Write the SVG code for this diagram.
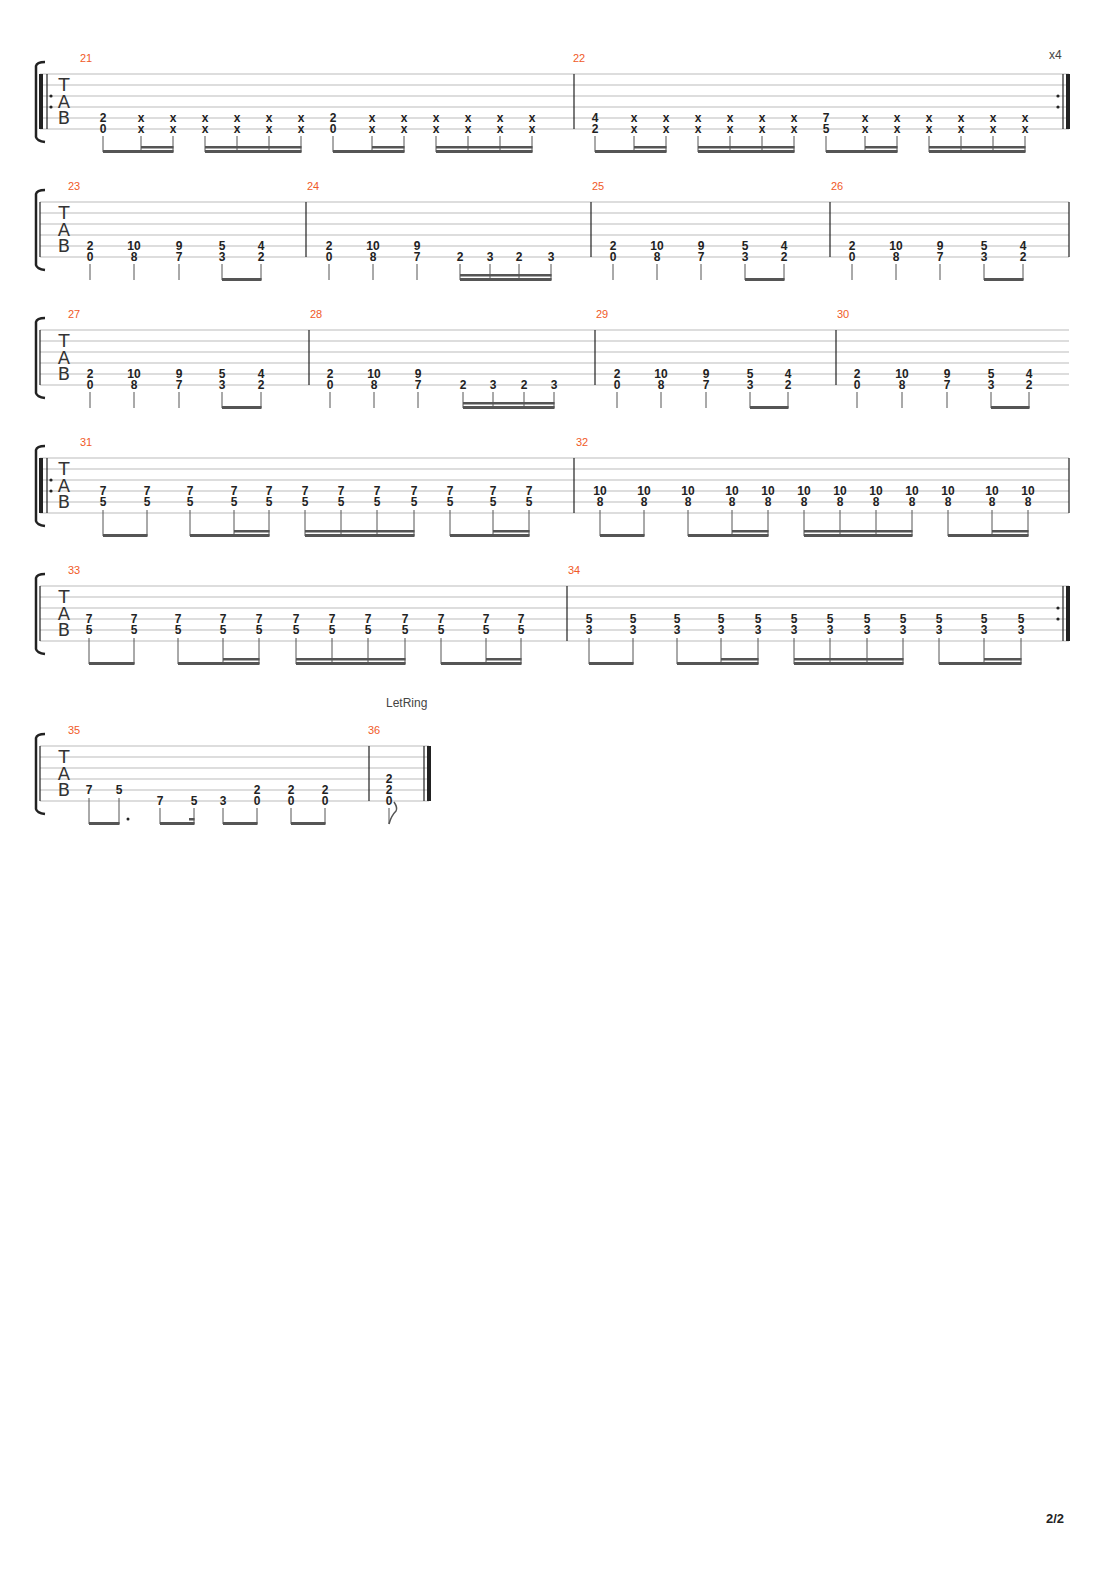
<svg xmlns="http://www.w3.org/2000/svg" width="1110" height="1570" viewBox="0 0 1110 1570">
<style>
.sl{stroke:#bbb;stroke-width:1}
.bl{stroke:#222;stroke-width:1.2}
.tb{stroke:#222;stroke-width:4}
.st{stroke:#555;stroke-width:1}
.bm{fill:#555}
.n{font-family:"Liberation Sans",Arial,sans-serif;font-size:12px;font-weight:bold;fill:#222;text-anchor:middle}
.mn{font-family:"Liberation Sans",Arial,sans-serif;font-size:11px;fill:#f05a28}
.tab{font-family:"DejaVu Sans",sans-serif;font-size:18px;fill:#333;text-anchor:middle}
.br{fill:none;stroke:#222;stroke-width:2.5}
.lb{font-family:"Liberation Sans",Arial,sans-serif;font-size:12px;fill:#444}
</style>
<rect width="1110" height="1570" fill="#fff"/>
<defs>
<g id="lines5"><path class="sl" d="M40 0H1069M40 11H1069M40 22H1069M40 33H1069M40 44H1069M40 55H1069"/></g>
<g id="head"><path class="br" d="M45 -12Q37 -12 36 -8V63Q37 67 45 68"/>
<text class="tab" x="64" y="17">T</text><text class="tab" x="64" y="34">A</text><text class="tab" x="64" y="50">B</text></g>
</defs>

<g id="sys1" transform="translate(0,74)">
<use href="#lines5"/><use href="#head"/>
<line class="tb" x1="41" y1="0" x2="41" y2="55"/><line class="bl" x1="47" y1="0" x2="47" y2="55"/>
<circle cx="51" cy="22" r="1.6" fill="#222"/><circle cx="51" cy="33" r="1.6" fill="#222"/>
<line class="bl" x1="574" y1="0" x2="574" y2="55"/>
<line class="bl" x1="1063" y1="0" x2="1063" y2="55"/><line class="tb" x1="1068" y1="0" x2="1068" y2="55"/>
<circle cx="1058" cy="22" r="1.6" fill="#222"/><circle cx="1058" cy="33" r="1.6" fill="#222"/>
<text class="mn" x="80" y="-12">21</text><text class="mn" x="573" y="-12">22</text>
<text class="lb" x="1049" y="-15">x4</text>
<g class="n">
<text x="103" y="48">2</text><text x="103" y="59">0</text>
<text x="141" y="48">x</text><text x="141" y="59">x</text><text x="173" y="48">x</text><text x="173" y="59">x</text>
<text x="205" y="48">x</text><text x="205" y="59">x</text><text x="237" y="48">x</text><text x="237" y="59">x</text>
<text x="269" y="48">x</text><text x="269" y="59">x</text><text x="301" y="48">x</text><text x="301" y="59">x</text>
<text x="333" y="48">2</text><text x="333" y="59">0</text>
<text x="372" y="48">x</text><text x="372" y="59">x</text><text x="404" y="48">x</text><text x="404" y="59">x</text>
<text x="436" y="48">x</text><text x="436" y="59">x</text><text x="468" y="48">x</text><text x="468" y="59">x</text>
<text x="500" y="48">x</text><text x="500" y="59">x</text><text x="532" y="48">x</text><text x="532" y="59">x</text>
<text x="595" y="48">4</text><text x="595" y="59">2</text>
<text x="634" y="48">x</text><text x="634" y="59">x</text><text x="666" y="48">x</text><text x="666" y="59">x</text>
<text x="698" y="48">x</text><text x="698" y="59">x</text><text x="730" y="48">x</text><text x="730" y="59">x</text>
<text x="762" y="48">x</text><text x="762" y="59">x</text><text x="794" y="48">x</text><text x="794" y="59">x</text>
<text x="826" y="48">7</text><text x="826" y="59">5</text>
<text x="865" y="48">x</text><text x="865" y="59">x</text><text x="897" y="48">x</text><text x="897" y="59">x</text>
<text x="929" y="48">x</text><text x="929" y="59">x</text><text x="961" y="48">x</text><text x="961" y="59">x</text>
<text x="993" y="48">x</text><text x="993" y="59">x</text><text x="1025" y="48">x</text><text x="1025" y="59">x</text>
</g>
<path class="st" d="M103 62V78M141 62V78M173 62V78M205 62V78M237 62V78M269 62V78M301 62V78M333 62V78M372 62V78M404 62V78M436 62V78M468 62V78M500 62V78M532 62V78M595 62V78M634 62V78M666 62V78M698 62V78M730 62V78M762 62V78M794 62V78M826 62V78M865 62V78M897 62V78M929 62V78M961 62V78M993 62V78M1025 62V78"/>
<g class="bm">
<rect x="103" y="76" width="70.5" height="3"/><rect x="141" y="72" width="32.5" height="2.5"/>
<rect x="205" y="76" width="96.5" height="3"/><rect x="205" y="72" width="96.5" height="2.5"/>
<rect x="333" y="76" width="71.5" height="3"/><rect x="372" y="72" width="32.5" height="2.5"/>
<rect x="436" y="76" width="96.5" height="3"/><rect x="436" y="72" width="96.5" height="2.5"/>
<rect x="595" y="76" width="71.5" height="3"/><rect x="634" y="72" width="32.5" height="2.5"/>
<rect x="698" y="76" width="96.5" height="3"/><rect x="698" y="72" width="96.5" height="2.5"/>
<rect x="826" y="76" width="71.5" height="3"/><rect x="865" y="72" width="32.5" height="2.5"/>
<rect x="929" y="76" width="96.5" height="3"/><rect x="929" y="72" width="96.5" height="2.5"/>
</g>
</g>

<g id="sys2" transform="translate(0,202)">
<use href="#lines5"/><use href="#head"/>
<path class="bl" d="M40 0V55M306 0V55M591 0V55M830 0V55M1069 0V55"/>
<text class="mn" x="68" y="-12">23</text><text class="mn" x="307" y="-12">24</text><text class="mn" x="592" y="-12">25</text><text class="mn" x="831" y="-12">26</text>
<g class="n">
<text x="90" y="48">2</text><text x="90" y="59">0</text><text x="134" y="48">10</text><text x="134" y="59">8</text><text x="179" y="48">9</text><text x="179" y="59">7</text><text x="222" y="48">5</text><text x="222" y="59">3</text><text x="261" y="48">4</text><text x="261" y="59">2</text>
<text x="329" y="48">2</text><text x="329" y="59">0</text><text x="373" y="48">10</text><text x="373" y="59">8</text><text x="417" y="48">9</text><text x="417" y="59">7</text>
<text x="460" y="59">2</text><text x="490" y="59">3</text><text x="519" y="59">2</text><text x="551" y="59">3</text>
<text x="613" y="48">2</text><text x="613" y="59">0</text><text x="657" y="48">10</text><text x="657" y="59">8</text><text x="701" y="48">9</text><text x="701" y="59">7</text><text x="745" y="48">5</text><text x="745" y="59">3</text><text x="784" y="48">4</text><text x="784" y="59">2</text>
<text x="852" y="48">2</text><text x="852" y="59">0</text><text x="896" y="48">10</text><text x="896" y="59">8</text><text x="940" y="48">9</text><text x="940" y="59">7</text><text x="984" y="48">5</text><text x="984" y="59">3</text><text x="1023" y="48">4</text><text x="1023" y="59">2</text>
</g>
<path class="st" d="M90 62V78M134 62V78M179 62V78M222 62V78M261 62V78M329 62V78M373 62V78M417 62V78M460 62V78M490 62V78M519 62V78M551 62V78M613 62V78M657 62V78M701 62V78M745 62V78M784 62V78M852 62V78M896 62V78M940 62V78M984 62V78M1023 62V78"/>
<g class="bm">
<rect x="222" y="76" width="39.5" height="3"/><rect x="460" y="76" width="91.5" height="3"/><rect x="460" y="72" width="91.5" height="2.5"/>
<rect x="745" y="76" width="39.5" height="3"/><rect x="984" y="76" width="39.5" height="3"/>
</g>
</g>

<g id="sys3" transform="translate(0,330)">
<use href="#lines5"/><use href="#head"/>
<path class="bl" d="M40 0V55M309 0V55M595 0V55M836 0V55"/>
<text class="mn" x="68" y="-12">27</text><text class="mn" x="310" y="-12">28</text><text class="mn" x="596" y="-12">29</text><text class="mn" x="837" y="-12">30</text>
<g class="n">
<text x="90" y="48">2</text><text x="90" y="59">0</text><text x="134" y="48">10</text><text x="134" y="59">8</text><text x="179" y="48">9</text><text x="179" y="59">7</text><text x="222" y="48">5</text><text x="222" y="59">3</text><text x="261" y="48">4</text><text x="261" y="59">2</text>
<text x="330" y="48">2</text><text x="330" y="59">0</text><text x="374" y="48">10</text><text x="374" y="59">8</text><text x="418" y="48">9</text><text x="418" y="59">7</text>
<text x="463" y="59">2</text><text x="493" y="59">3</text><text x="524" y="59">2</text><text x="554" y="59">3</text>
<text x="617" y="48">2</text><text x="617" y="59">0</text><text x="661" y="48">10</text><text x="661" y="59">8</text><text x="706" y="48">9</text><text x="706" y="59">7</text><text x="750" y="48">5</text><text x="750" y="59">3</text><text x="788" y="48">4</text><text x="788" y="59">2</text>
<text x="857" y="48">2</text><text x="857" y="59">0</text><text x="902" y="48">10</text><text x="902" y="59">8</text><text x="947" y="48">9</text><text x="947" y="59">7</text><text x="991" y="48">5</text><text x="991" y="59">3</text><text x="1029" y="48">4</text><text x="1029" y="59">2</text>
</g>
<path class="st" d="M90 62V78M134 62V78M179 62V78M222 62V78M261 62V78M330 62V78M374 62V78M418 62V78M463 62V78M493 62V78M524 62V78M554 62V78M617 62V78M661 62V78M706 62V78M750 62V78M788 62V78M857 62V78M902 62V78M947 62V78M991 62V78M1029 62V78"/>
<g class="bm">
<rect x="222" y="76" width="39.5" height="3"/><rect x="463" y="76" width="91.5" height="3"/><rect x="463" y="72" width="91.5" height="2.5"/>
<rect x="750" y="76" width="38.5" height="3"/><rect x="991" y="76" width="38.5" height="3"/>
</g>
</g>

<g id="sys4" transform="translate(0,458)">
<use href="#lines5"/><use href="#head"/>
<line class="tb" x1="41" y1="0" x2="41" y2="55"/><line class="bl" x1="47" y1="0" x2="47" y2="55"/>
<circle cx="51" cy="22" r="1.6" fill="#222"/><circle cx="51" cy="33" r="1.6" fill="#222"/>
<path class="bl" d="M574 0V55M1069 0V55"/>
<text class="mn" x="80" y="-12">31</text><text class="mn" x="576" y="-12">32</text>
<g class="n">
<text x="103" y="37">7</text><text x="103" y="48">5</text><text x="147" y="37">7</text><text x="147" y="48">5</text><text x="190" y="37">7</text><text x="190" y="48">5</text><text x="234" y="37">7</text><text x="234" y="48">5</text><text x="269" y="37">7</text><text x="269" y="48">5</text><text x="305" y="37">7</text><text x="305" y="48">5</text><text x="341" y="37">7</text><text x="341" y="48">5</text><text x="377" y="37">7</text><text x="377" y="48">5</text><text x="414" y="37">7</text><text x="414" y="48">5</text><text x="450" y="37">7</text><text x="450" y="48">5</text><text x="493" y="37">7</text><text x="493" y="48">5</text><text x="529" y="37">7</text><text x="529" y="48">5</text>
<text x="600" y="37">10</text><text x="600" y="48">8</text><text x="644" y="37">10</text><text x="644" y="48">8</text><text x="688" y="37">10</text><text x="688" y="48">8</text><text x="732" y="37">10</text><text x="732" y="48">8</text><text x="768" y="37">10</text><text x="768" y="48">8</text><text x="804" y="37">10</text><text x="804" y="48">8</text><text x="840" y="37">10</text><text x="840" y="48">8</text><text x="876" y="37">10</text><text x="876" y="48">8</text><text x="912" y="37">10</text><text x="912" y="48">8</text><text x="948" y="37">10</text><text x="948" y="48">8</text><text x="992" y="37">10</text><text x="992" y="48">8</text><text x="1028" y="37">10</text><text x="1028" y="48">8</text>
</g>
<path class="st" d="M103 52V78M147 52V78M190 52V78M234 52V78M269 52V78M305 52V78M341 52V78M377 52V78M414 52V78M450 52V78M493 52V78M529 52V78M600 52V78M644 52V78M688 52V78M732 52V78M768 52V78M804 52V78M840 52V78M876 52V78M912 52V78M948 52V78M992 52V78M1028 52V78"/>
<g class="bm">
<rect x="103" y="76" width="44.5" height="3"/><rect x="190" y="76" width="79.5" height="3"/><rect x="234" y="72" width="35.5" height="2.5"/>
<rect x="305" y="76" width="109.5" height="3"/><rect x="305" y="72" width="109.5" height="2.5"/>
<rect x="450" y="76" width="79.5" height="3"/><rect x="493" y="72" width="36.5" height="2.5"/>
<rect x="600" y="76" width="44.5" height="3"/><rect x="688" y="76" width="80.5" height="3"/><rect x="732" y="72" width="36.5" height="2.5"/>
<rect x="804" y="76" width="108.5" height="3"/><rect x="804" y="72" width="108.5" height="2.5"/>
<rect x="948" y="76" width="80.5" height="3"/><rect x="992" y="72" width="36.5" height="2.5"/>
</g>
</g>

<g id="sys5" transform="translate(0,586)">
<use href="#lines5"/><use href="#head"/>
<path class="bl" d="M40 0V55M567 0V55M1063 0V55"/><line class="tb" x1="1068" y1="0" x2="1068" y2="55"/>
<circle cx="1058" cy="22" r="1.6" fill="#222"/><circle cx="1058" cy="33" r="1.6" fill="#222"/>
<text class="mn" x="68" y="-12">33</text><text class="mn" x="568" y="-12">34</text>
<g class="n">
<text x="89" y="37">7</text><text x="89" y="48">5</text><text x="134" y="37">7</text><text x="134" y="48">5</text><text x="178" y="37">7</text><text x="178" y="48">5</text><text x="223" y="37">7</text><text x="223" y="48">5</text><text x="259" y="37">7</text><text x="259" y="48">5</text><text x="296" y="37">7</text><text x="296" y="48">5</text><text x="332" y="37">7</text><text x="332" y="48">5</text><text x="368" y="37">7</text><text x="368" y="48">5</text><text x="405" y="37">7</text><text x="405" y="48">5</text><text x="441" y="37">7</text><text x="441" y="48">5</text><text x="486" y="37">7</text><text x="486" y="48">5</text><text x="521" y="37">7</text><text x="521" y="48">5</text>
<text x="589" y="37">5</text><text x="589" y="48">3</text><text x="633" y="37">5</text><text x="633" y="48">3</text><text x="677" y="37">5</text><text x="677" y="48">3</text><text x="721" y="37">5</text><text x="721" y="48">3</text><text x="758" y="37">5</text><text x="758" y="48">3</text><text x="794" y="37">5</text><text x="794" y="48">3</text><text x="830" y="37">5</text><text x="830" y="48">3</text><text x="867" y="37">5</text><text x="867" y="48">3</text><text x="903" y="37">5</text><text x="903" y="48">3</text><text x="939" y="37">5</text><text x="939" y="48">3</text><text x="984" y="37">5</text><text x="984" y="48">3</text><text x="1021" y="37">5</text><text x="1021" y="48">3</text>
</g>
<path class="st" d="M89 52V78M134 52V78M178 52V78M223 52V78M259 52V78M296 52V78M332 52V78M368 52V78M405 52V78M441 52V78M486 52V78M521 52V78M589 52V78M633 52V78M677 52V78M721 52V78M758 52V78M794 52V78M830 52V78M867 52V78M903 52V78M939 52V78M984 52V78M1021 52V78"/>
<g class="bm">
<rect x="89" y="76" width="45.5" height="3"/><rect x="178" y="76" width="81.5" height="3"/><rect x="223" y="72" width="36.5" height="2.5"/>
<rect x="296" y="76" width="109.5" height="3"/><rect x="296" y="72" width="109.5" height="2.5"/>
<rect x="441" y="76" width="80.5" height="3"/><rect x="486" y="72" width="35.5" height="2.5"/>
<rect x="589" y="76" width="44.5" height="3"/><rect x="677" y="76" width="81.5" height="3"/><rect x="721" y="72" width="37.5" height="2.5"/>
<rect x="794" y="76" width="109.5" height="3"/><rect x="794" y="72" width="109.5" height="2.5"/>
<rect x="939" y="76" width="82.5" height="3"/><rect x="984" y="72" width="37.5" height="2.5"/>
</g>
</g>

<g id="sys6" transform="translate(0,746)">
<path class="sl" d="M40 0H429M40 11H429M40 22H429M40 33H429M40 44H429M40 55H429"/>
<use href="#head"/>
<path class="bl" d="M40 0V55M369 0V55M424 0V55"/><line class="tb" x1="429" y1="0" x2="429" y2="55"/>
<text class="mn" x="68" y="-12">35</text><text class="mn" x="368" y="-12">36</text>
<text class="lb" x="386" y="-39">LetRing</text>
<g class="n">
<text x="89" y="48">7</text><text x="119" y="48">5</text><text x="160" y="59">7</text><text x="194" y="59">5</text><text x="223" y="59">3</text>
<text x="257" y="48">2</text><text x="257" y="59">0</text><text x="291" y="48">2</text><text x="291" y="59">0</text><text x="325" y="48">2</text><text x="325" y="59">0</text>
<text x="389" y="37">2</text><text x="389" y="48">2</text><text x="389" y="59">0</text>
</g>
<path class="st" d="M89 52V78M119 52V78M160 62V78M194 62V78M223 62V78M257 62V78M291 62V78M325 62V78M389 62V78"/>
<circle cx="128" cy="73" r="1.5" fill="#222"/>
<g class="bm">
<rect x="89" y="76" width="30.5" height="3"/><rect x="160" y="76" width="34.5" height="3"/><rect x="189" y="72" width="5.5" height="2.5"/>
<rect x="223" y="76" width="34.5" height="3"/><rect x="291" y="76" width="34.5" height="3"/>
</g>
<path d="M389 78Q391 70 396 65Q398 62 394 56" fill="none" stroke="#555" stroke-width="1.5"/>
</g>

<text x="1055" y="1523" font-family="Liberation Sans,Arial,sans-serif" font-size="13" font-weight="bold" fill="#222" text-anchor="middle">2/2</text>
</svg>
